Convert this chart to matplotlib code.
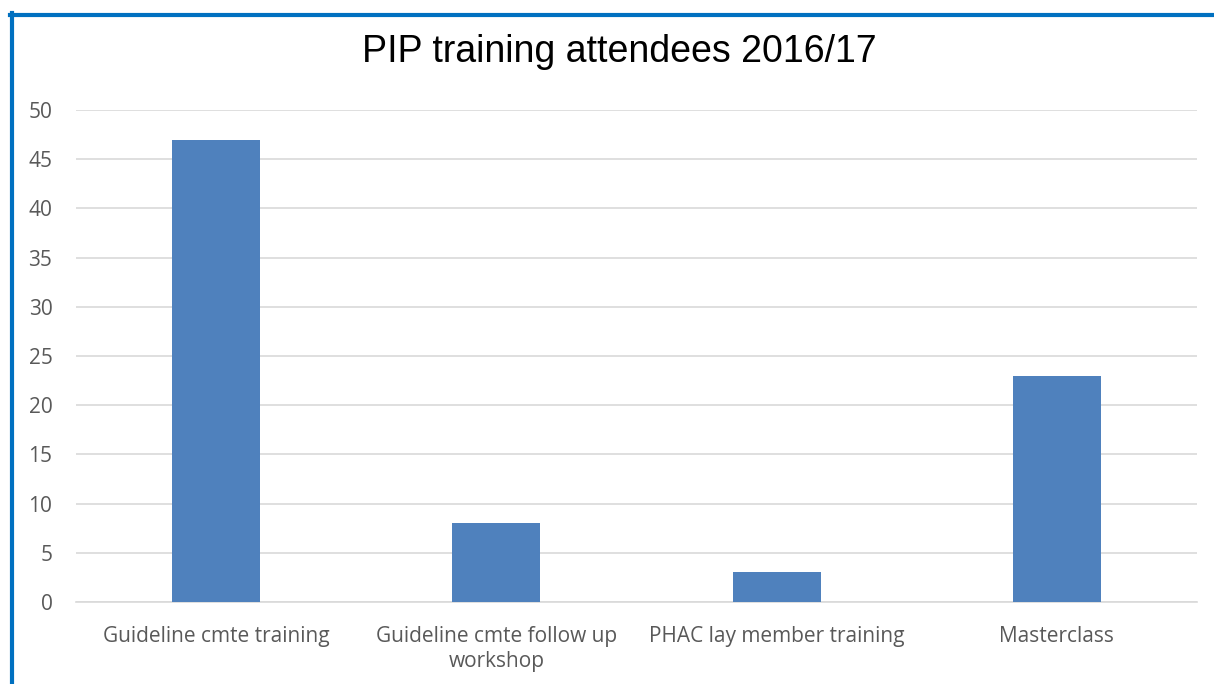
import matplotlib.pyplot as plt
from matplotlib.lines import Line2D

categories = ["Guideline cmte training", "Guideline cmte follow up\nworkshop",
              "PHAC lay member training", "Masterclass"]
attendees = [47, 8, 3, 23]
yticks = [0, 5, 10, 15, 20, 25, 30, 35, 40, 45, 50]

fig = plt.figure(figsize=(12.14, 6.84), dpi=100)
ax = fig.add_axes([76 / 1214, 1 - 602 / 684, (1197 - 76) / 1214, (602 - 110) / 684])

x = range(len(categories))
ax.bar(x, attendees, width=0.314, color="#4F81BD", zorder=3)
ax.set_xlim(-0.5, len(categories) - 0.5)
ax.set_ylim(0, 50)
ax.set_yticks(yticks)
ax.set_xticks(list(x))
ax.set_xticklabels(categories, fontsize=15, color="#595959", family="Open Sans",
                   linespacing=1.3)
ax.tick_params(axis="y", labelsize=15, labelcolor="#595959", length=0, pad=17)
ax.tick_params(axis="x", length=0, pad=17)
for lbl in ax.get_yticklabels():
    lbl.set_family("Open Sans")
ax.grid(axis="y", color="#D9D9D9", linewidth=1.2, zorder=0)
for s in ["top", "right", "left"]:
    ax.spines[s].set_visible(False)
ax.spines["bottom"].set_color("#D9D9D9")
ax.spines["bottom"].set_linewidth(1.2)

fig.text(619 / 1214, 1 - 52 / 684, "PIP training attendees 2016/17", ha="center", va="center",
         fontsize=27, family="Liberation Sans", color="black")

# blue frame on top and left
fig.add_artist(Line2D([10 / 1214, 1], [1 - 14.5 / 684, 1 - 14.5 / 684],
                      transform=fig.transFigure, color="#0070C0", linewidth=3))
fig.add_artist(Line2D([12 / 1214, 12 / 1214], [0, 1 - 13 / 684],
                      transform=fig.transFigure, color="#0070C0", linewidth=3))

fig.savefig("out.png", dpi=100)
